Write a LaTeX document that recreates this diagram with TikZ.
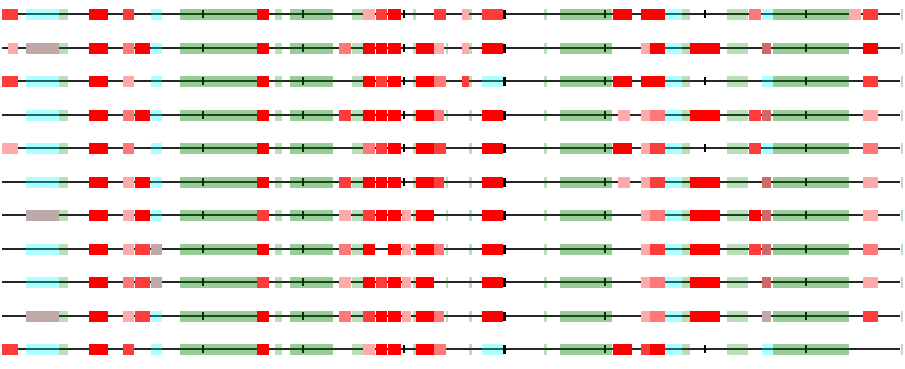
\documentclass[tikz,border=0pt]{standalone}
\definecolor{gbase}{RGB}{0,128,0}
\definecolor{cyanb}{RGB}{0,255,255}
\definecolor{cR}{RGB}{255,0,0}
\definecolor{cRM}{RGB}{255,60,60}
\definecolor{cRP}{RGB}{255,120,120}
\definecolor{cP}{RGB}{255,170,170}
\definecolor{cM}{RGB}{190,168,168}
\definecolor{cMR}{RGB}{208,106,106}
\tikzset{
  bline/.style={draw=black!85, line width=1.1},
  btick/.style={draw=black, line width=1.2},
  bR/.style={fill=cR},
  bRM/.style={fill=cRM},
  bRP/.style={fill=cRP},
  bP/.style={fill=cP},
  bM/.style={fill=cM},
  bMR/.style={fill=cMR},
  bC/.style={fill=cyanb, fill opacity=0.32},
  bG/.style={fill=gbase, fill opacity=0.4},
  bLG/.style={fill=gbase, fill opacity=0.27},
}
\def\ry{0}
\newcommand\blk[3]{\fill[#3] (#1,\ry-5.5) rectangle (#2,\ry+5.5);}
\newcommand\tickx[1]{\draw[btick] (#1,\ry-4) -- (#1,\ry+4);}
\newcommand\rowbase{%
  \draw[bline] (2,\ry) -- (900,\ry);
  \tickx{203}\tickx{303}\tickx{404}\tickx{605}\tickx{806}
  \draw[black, line width=2.6] (504.5,\ry-4.5) -- (504.5,\ry+4.5);
  \blk{59}{68}{bLG}\blk{89}{108}{bR}\blk{180}{257}{bG}\blk{275}{282}{bLG}
  \blk{290}{333}{bG}\blk{352}{357.5}{bLG}\blk{357.5}{363}{bLG}\blk{387.5}{401}{bR}
  \blk{413}{416}{bLG}\blk{469}{472}{bLG}\blk{544}{546.5}{bLG}\blk{560}{612}{bG}
  \blk{665}{682}{bC}\blk{682}{690}{bLG}\blk{727}{748}{bLG}\blk{773}{849}{bG}
  \blk{901}{903}{bLG}}
\newcommand\thin{\blk{445.5}{447.5}{bLG}}
\begin{document}
\begin{tikzpicture}[x=1pt,y=-1pt]
\useasboundingbox (0,0) rectangle (905,368);
% row 1
\def\ry{14}\rowbase
\blk{2}{18}{bRM}\blk{26}{59}{bC}\blk{123}{134}{bRM}\blk{151}{162}{bC}\blk{257}{269}{bR}
\blk{363}{374.5}{bP}\blk{375.5}{386.5}{bRM}\blk{434}{446}{bRM}\blk{462}{469}{bP}
\blk{482}{503}{bRM}\blk{613}{632}{bR}\blk{641}{665}{bR}\tickx{705}
\blk{749}{761}{bRP}\blk{762}{773}{bC}\blk{849}{861}{bP}\blk{863}{878}{bRM}
% row 2
\def\ry{48}\rowbase\thin
\blk{8}{18}{bP}\blk{26}{59}{bM}\blk{123}{134}{bRP}\blk{135}{150}{bR}\blk{151}{162}{bC}
\blk{257}{269}{bR}\blk{339}{351}{bRP}\blk{363}{374.5}{bR}\blk{375.5}{386.5}{bR}
\blk{416}{434}{bR}\blk{434}{444}{bP}\blk{462}{469}{bP}\blk{482}{503}{bR}
\blk{641}{650}{bP}\blk{650}{665}{bR}\blk{690}{720}{bR}\blk{762}{771}{bMR}\blk{863}{878}{bR}
% row 3
\def\ry{81}\rowbase
\blk{2}{18}{bRM}\blk{26}{59}{bC}\blk{123}{134}{bP}\blk{151}{162}{bC}\blk{257}{269}{bR}
\blk{363}{374.5}{bR}\blk{375.5}{386.5}{bRM}\blk{416}{434}{bR}\blk{434}{446}{bRP}
\blk{462}{469}{bRM}\blk{482}{503}{bC}\blk{613}{632}{bR}\blk{641}{665}{bR}\tickx{705}
\blk{762}{773}{bC}\blk{863}{878}{bRM}
% row 4
\def\ry{115}\rowbase\thin
\blk{26}{59}{bC}\blk{123}{134}{bRP}\blk{135}{150}{bR}\blk{151}{162}{bC}\blk{257}{269}{bR}
\blk{339}{351}{bRM}\blk{363}{374.5}{bR}\blk{375.5}{386.5}{bR}\blk{416}{434}{bR}
\blk{434}{444}{bRP}\blk{482}{503}{bR}\blk{618}{630}{bP}\blk{641}{650}{bP}\blk{650}{665}{bRP}
\blk{690}{720}{bR}\blk{749}{761}{bRM}\blk{762}{771}{bMR}\blk{863}{878}{bP}
% row 5
\def\ry{148}\rowbase
\blk{2}{18}{bP}\blk{26}{59}{bC}\blk{123}{134}{bRP}\blk{151}{162}{bC}\blk{257}{269}{bR}
\blk{363}{374.5}{bRP}\blk{375.5}{386.5}{bRM}\blk{416}{434}{bR}\blk{434}{446}{bRM}
\blk{482}{503}{bR}\blk{613}{632}{bR}\blk{641}{650}{bP}\blk{650}{665}{bRM}\tickx{705}
\blk{749}{761}{bRM}\blk{762}{773}{bC}\blk{863}{878}{bRP}
% row 6
\def\ry{182}\rowbase\thin
\blk{26}{59}{bC}\blk{123}{134}{bP}\blk{135}{150}{bR}\blk{151}{162}{bC}\blk{257}{269}{bR}
\blk{339}{351}{bRM}\blk{363}{374.5}{bR}\blk{375.5}{386.5}{bR}\blk{416}{434}{bR}
\blk{434}{444}{bRM}\blk{482}{503}{bR}\blk{618}{630}{bP}\blk{641}{650}{bP}\blk{650}{665}{bRM}
\blk{690}{720}{bR}\blk{762}{771}{bMR}\blk{863}{878}{bP}
% row 7
\def\ry{215}\rowbase\thin
\blk{26}{59}{bM}\blk{123}{134}{bP}\blk{135}{150}{bR}\blk{151}{162}{bC}\blk{257}{269}{bRM}
\blk{339}{351}{bP}\blk{363}{374.5}{bRM}\blk{375.5}{386.5}{bR}\blk{401.5}{411}{bP}
\blk{416}{434}{bR}\blk{482}{503}{bR}\blk{641}{650}{bP}\blk{650}{665}{bRP}
\blk{690}{720}{bR}\blk{749}{761}{bR}\blk{762}{771}{bMR}\blk{863}{878}{bP}
% row 8
\def\ry{249}\rowbase\thin
\blk{26}{59}{bC}\blk{123}{134}{bP}\blk{135}{150}{bRM}\blk{151}{162}{bM}\blk{257}{269}{bR}
\blk{339}{351}{bRP}\blk{363}{374.5}{bR}\blk{401.5}{411}{bP}\blk{416}{434}{bR}
\blk{434}{444}{bRP}\blk{482}{503}{bR}\blk{641}{650}{bP}\blk{650}{665}{bRM}
\blk{690}{720}{bR}\blk{749}{761}{bRM}\blk{762}{771}{bMR}\blk{863}{878}{bRP}
% row 9
\def\ry{282}\rowbase\thin
\blk{26}{59}{bC}\blk{123}{134}{bRP}\blk{135}{150}{bRM}\blk{151}{162}{bM}\blk{257}{269}{bRM}
\blk{339}{351}{bP}\blk{363}{374.5}{bR}\blk{375.5}{386.5}{bRM}\blk{401.5}{411}{bP}
\blk{416}{434}{bR}\blk{482}{503}{bR}\blk{641}{650}{bP}\blk{650}{665}{bRP}
\blk{690}{720}{bR}\blk{762}{771}{bMR}\blk{863}{878}{bP}
% row 10
\def\ry{316}\rowbase\thin
\blk{26}{59}{bM}\blk{123}{134}{bP}\blk{135}{150}{bRM}\blk{151}{162}{bC}\blk{257}{269}{bR}
\blk{339}{351}{bRP}\blk{363}{374.5}{bRM}\blk{375.5}{386.5}{bR}\blk{401.5}{411}{bP}
\blk{416}{434}{bR}\blk{434}{444}{bRP}\blk{482}{503}{bR}\blk{641}{650}{bP}\blk{650}{665}{bRP}
\blk{690}{720}{bR}\blk{762}{771}{bM}\blk{863}{878}{bRM}
% row 11
\def\ry{349}\rowbase
\blk{2}{18}{bRM}\blk{26}{59}{bC}\blk{123}{134}{bRM}\blk{151}{162}{bC}\blk{257}{269}{bR}
\blk{363}{374.5}{bP}\blk{375.5}{386.5}{bR}\blk{416}{434}{bR}\blk{434}{446}{bRP}
\blk{482}{503}{bC}\blk{613}{632}{bR}\blk{641}{650}{bRM}\blk{650}{665}{bR}\tickx{705}
\blk{762}{773}{bC}
\end{tikzpicture}
\end{document}
